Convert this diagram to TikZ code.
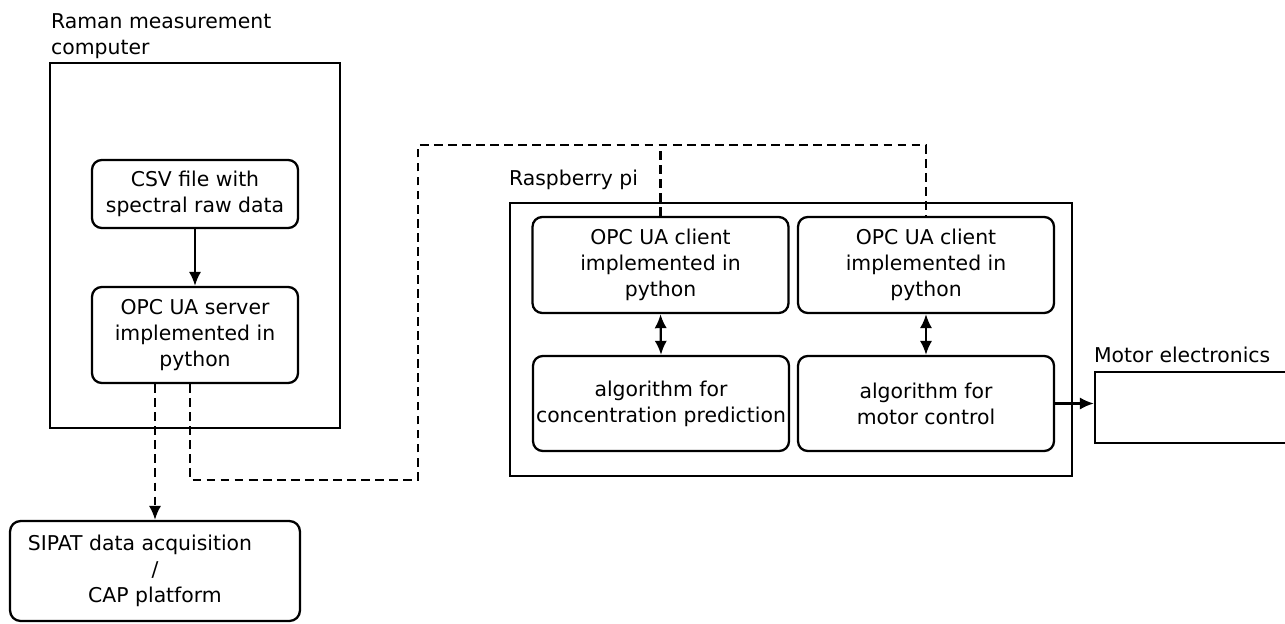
\documentclass[tikz,border=0pt]{standalone}
\usepackage{fontspec}
\setmainfont{DejaVu Sans}
\usetikzlibrary{arrows.meta,calc}
\begin{document}
\begin{tikzpicture}[x=0.02cm,y=-0.02cm, line width=1.3pt,
  every node/.style={font=\fontsize{11.6}{14.8}\selectfont},
  rbox/.style={draw, rounded corners=5.5pt, align=center, inner sep=0pt},
  frame/.style={draw, inner sep=0pt},
  lbl/.style={inner sep=0pt},
  dashline/.style={dash pattern=on 5pt off 3pt},
  >={Latex[length=8pt,width=7pt]}]
\useasboundingbox (0,0) rectangle (1285,623);

% Raman computer
\node[frame, minimum width=5.8cm, minimum height=7.3cm] (raman) at (195,245.5) {};
\node[lbl, align=left, anchor=north west] (ramanlbl) at (50,12) {Raman measurement\\computer};
\node[rbox, minimum width=4.12cm, minimum height=1.36cm] (csv) at (195,194) {CSV file with\\spectral raw data};
\node[rbox, minimum width=4.12cm, minimum height=1.92cm] (server) at (195,335) {OPC UA server\\implemented in\\python};

% SIPAT
\node[rbox, rounded corners=6pt, minimum width=5.8cm, minimum height=2.0cm] (sipat) at (155,571) {SIPAT data acquisition\hspace*{0.6cm}\\/\\CAP platform};

% Raspberry pi
\node[frame, minimum width=11.24cm, minimum height=5.46cm] (rpi) at (791,339.5) {};
\node[lbl, anchor=base west] (rpilbl) at (508,185) {Raspberry pi};
\node[rbox, minimum width=5.12cm, minimum height=1.92cm] (cl1) at (660.5,265) {OPC UA client\\implemented in\\python};
\node[rbox, minimum width=5.12cm, minimum height=1.92cm] (cl2) at (926,265) {OPC UA client\\implemented in\\python};
\node[rbox, minimum width=5.12cm, minimum height=1.9cm] (alg1) at (661,403.5) {algorithm for\\concentration prediction};
\node[rbox, minimum width=5.12cm, minimum height=1.9cm] (alg2) at (926,403.5) {algorithm for\\motor control};

% Motor electronics
\node[frame, minimum width=4cm, minimum height=1.42cm] (motor) at (1195,407.5) {};
\node[lbl, anchor=base west] (motorlbl) at (1093,362) {Motor electronics};

% connectors
\draw[->] (csv.south) -- (server.north);
\draw[<->] (cl1.south) -- (alg1.north);
\draw[<->] (cl2.south) -- (alg2.north);
\draw[->] (alg2.east) -- (alg2.east -| motor.west);
\draw[dashline, ->] (server.south -| sipat.north) -- (sipat.north);
\coordinate (c1) at (418,480);
\coordinate (c2) at (418,145);
\draw[dashline] ([xshift=-0.1cm]server.south) |- (c1) -- (c2) -| (cl2.north);
\draw[dashline] (cl1.north) -- (cl1.north |- c2);
\end{tikzpicture}
\end{document}
